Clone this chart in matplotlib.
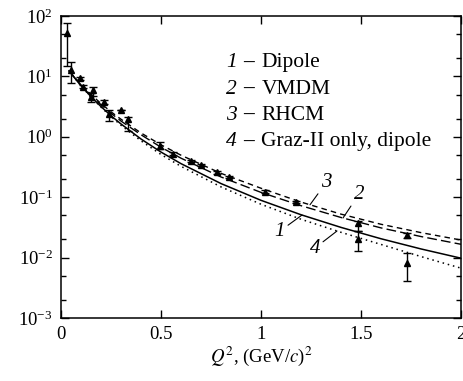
import numpy as np
import matplotlib
matplotlib.use('Agg')
import matplotlib.pyplot as plt

plt.rcParams['font.family'] = 'serif'
plt.rcParams['font.serif'] = ['Liberation Serif', 'DejaVu Serif']
plt.rcParams['mathtext.fontset'] = 'stix'

# theory curves
q2_curve = [0.04, 0.07, 0.1, 0.15, 0.2, 0.25, 0.3, 0.4, 0.5, 0.6, 0.8,
            1.0, 1.2, 1.4, 1.6, 1.8, 2.0]
dipole = [12.4, 9.25, 7.03, 4.61, 3.16, 2.23, 1.63, 0.918, 0.558, 0.359, 0.168,
          0.0887, 0.0512, 0.0316, 0.0205, 0.0139, 0.00977]
vmdm = [12.4, 9.35, 7.19, 4.83, 3.39, 2.45, 1.82, 1.08, 0.671, 0.442, 0.216,
        0.120, 0.0723, 0.0461, 0.0310, 0.0223, 0.0166]
rhcm = [12.4, 9.46, 7.36, 5.00, 3.55, 2.59, 1.95, 1.156, 0.736, 0.495, 0.248,
        0.1406, 0.0830, 0.0524, 0.0356, 0.0259, 0.0195]
graz = [12.4, 9.25, 6.95, 4.54, 3.09, 2.16, 1.55, 0.857, 0.509, 0.324, 0.148,
        0.0764, 0.0431, 0.0262, 0.0165, 0.0104, 0.00668]

# measured points
q2_data = [0.03, 0.052, 0.094, 0.11, 0.16, 0.152, 0.215, 0.238, 0.30, 0.335,
           0.494, 0.56, 0.652, 0.70, 0.78, 0.838, 1.02, 1.173, 1.487, 1.487,
           1.728, 1.73]
val_data = [52, 12.7, 9.26, 6.73, 5.91, 4.59, 3.79, 2.42, 2.74, 2.0,
            0.716, 0.521, 0.403, 0.345, 0.258, 0.218, 0.123, 0.0835, 0.0368, 0.02,
            0.0233, 0.00816]
err_hi = [76, 17.6, 9.9, 7.2, 6.56, 5.21, 4.14, 2.74, 2.74, 2.15,
          0.816, 0.55, 0.42, 0.36, 0.27, 0.228, 0.13, 0.088, 0.0403, 0.0274,
          0.0253, 0.012]
err_lo = [15, 7.85, 8.7, 6.3, 4.77, 3.83, 3.5, 1.83, 2.74, 1.26,
          0.63, 0.49, 0.385, 0.33, 0.246, 0.208, 0.116, 0.079, 0.0274, 0.0127,
          0.0213, 0.00403]

legend_lines = ['Dipole', 'VMDM', 'RHCM', 'Graz-II only, dipole']

fig = plt.figure(figsize=(4.64, 3.81), dpi=100)
ax = fig.add_axes([0.1315, 0.1654, 0.862, 0.7927])

ax.plot(q2_curve, dipole, color='black', lw=1.1)
ax.plot(q2_curve, vmdm, color='black', lw=1.0, dashes=(7, 3))
ax.plot(q2_curve, rhcm, color='black', lw=1.0, dashes=(4, 3))
ax.plot(q2_curve, graz, color='black', lw=1.1, dashes=(1, 2.5))

vals = np.array(val_data)
yerr = [vals - np.array(err_lo), np.array(err_hi) - vals]
ax.errorbar(q2_data, val_data, yerr=yerr, fmt='^', color='black', ms=5,
            ecolor='black', elinewidth=1.0, capsize=3, capthick=1.0)

ax.set_yscale('log')
ax.set_xlim(0, 2)
ax.set_ylim(1e-3, 1e2)
ax.set_xticks([0, 0.5, 1, 1.5, 2])
ax.set_xticklabels(['0', '0.5', '1', '1.5', '2'])
ax.yaxis.set_major_locator(matplotlib.ticker.LogLocator(base=10, numticks=10))
ax.yaxis.set_minor_locator(matplotlib.ticker.LogLocator(base=10, subs=(2, 5), numticks=10))
ax.yaxis.set_minor_formatter(matplotlib.ticker.NullFormatter())
ax.tick_params(which='both', direction='in', top=True, right=True, labelsize=13.5, width=1.0)
ax.tick_params(which='major', length=6, pad=6)
ax.tick_params(which='minor', length=3.5)
for s in ax.spines.values():
    s.set_linewidth(1.1)

ax.set_xlabel(r'$Q^2$, (GeV/$c$)$^2$', fontsize=13.5, labelpad=1)

# legend as plain text
for i, name in enumerate(legend_lines):
    y = 0.845 - i * 0.087
    ax.text(0.412, y, str(i + 1), transform=ax.transAxes, fontsize=15.5,
            style='italic', va='center', ha='left')
    ax.text(0.456, y, '\u2013', transform=ax.transAxes, fontsize=15.5,
            fontweight='bold', va='center', ha='left')
    ax.text(0.501, y, name, transform=ax.transAxes, fontsize=15.5,
            va='center', ha='left')

# curve labels with leaders
def on_curve(x, curve):
    return 10 ** np.interp(x, q2_curve, np.log10(curve))

labels = [('1', 1.205, dipole, (-22, -16)),
          ('2', 1.41, vmdm, (16, 24)),
          ('3', 1.245, rhcm, (16, 22)),
          ('4', 1.38, graz, (-22, -17))]
for txt, x, curve, off in labels:
    ax.annotate(txt, xy=(x, on_curve(x, curve)), xytext=off,
                textcoords='offset pixels', fontsize=15, style='italic',
                ha='center', va='center',
                arrowprops=dict(arrowstyle='-', color='black', lw=0.8,
                                shrinkA=0, shrinkB=0))

fig.savefig('out.png', dpi=100)
